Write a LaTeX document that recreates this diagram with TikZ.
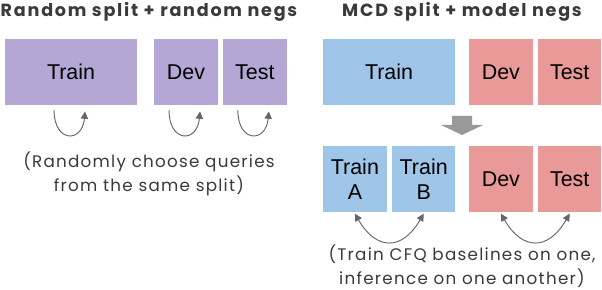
\documentclass[tikz,border=0pt]{standalone}
\usepackage{fontspec}
\setmainfont{Poppins}
\newfontfamily\boxfont{Liberation Sans}
\newfontfamily\headfont[LetterSpace=10]{Poppins Bold}
\newfontfamily\notefont[LetterSpace=7.5]{Poppins}
\usetikzlibrary{arrows.meta,positioning}
\definecolor{Lilac}{HTML}{B4A7D6}
\definecolor{Sky}{HTML}{9FC5E8}
\definecolor{Rose}{HTML}{EA9999}
\definecolor{Ink}{HTML}{3A3A3A}
\definecolor{Slate}{HTML}{666666}
\definecolor{Stone}{HTML}{999999}
\tikzset{
  split/.style={
    minimum height=1.98cm,minimum width=1.9cm,inner sep=0pt,
    font=\boxfont\fontsize{18.3}{21}\selectfont,text=black,align=center
  },
  wide/.style={split,minimum width=3.95cm},
  heading/.style={font=\headfont\fontsize{15}{17}\selectfont,text=Ink},
  note/.style={font=\notefont\fontsize{14.3}{20.4}\selectfont,text=Ink,align=center},
  self/.style={-{Triangle[length=2.2mm,width=2.2mm]},draw=Slate,line width=0.8pt},
  swap/.style={{Triangle[length=2.2mm,width=2.2mm]}-{Triangle[length=2.2mm,width=2.2mm]},
    draw=Slate,line width=0.8pt}
}

\begin{document}
\begin{tikzpicture}[x=0.03cm,y=-0.03cm]
  \useasboundingbox (0,0) rectangle (602,290);

  % random split
  \node[heading] (titleL) at (149,12) {Random split + random negs};
  \node[wide,fill=Lilac,anchor=north west] (trainL) at (5,39) {Train};
  \node[split,fill=Lilac,right=0.51cm of trainL] (devL) {Dev};
  \node[split,fill=Lilac,right=0.15cm of devL] (testL) {Test};
  \foreach \n in {trainL,devL,testL}
    \draw[self] ([xshift=-0.51cm,yshift=-0.15cm]\n.south)
      .. controls +(0,32) and +(-3,32) .. ([xshift=0.42cm,yshift=-0.18cm]\n.south);
  \node[note] (noteL) at (149,174) {(Randomly choose queries\\from the same split)};

  % MCD split
  \node[heading] (titleR) at (462,12) {MCD split + model negs};
  \node[wide,fill=Sky,anchor=north west] (trainR) at (323,39) {Train};
  \node[split,fill=Rose,anchor=north west] (devR) at (469,39) {Dev};
  \node[split,fill=Rose,right=0.15cm of devR] (testR) {Test};
  \fill[Stone] (452,116) -- (472,116) -- (472,125) -- (483,125) -- (462,135)
    -- (441,125) -- (452,125) -- cycle;
  \node[split,fill=Sky,anchor=north west] (trainA) at (323,146) {Train\\A};
  \node[split,fill=Sky,right=0.15cm of trainA] (trainB) {Train\\B};
  \node[split,fill=Rose,anchor=north west] (devM) at (469,146) {Dev};
  \node[split,fill=Rose,right=0.15cm of devM] (testM) {Test};
  \draw[swap] ([yshift=-1pt]trainA.south) to[out=-60,in=-120,looseness=1.6] ([yshift=-1pt]trainB.south);
  \draw[swap] ([yshift=-1pt]devM.south) to[out=-60,in=-120,looseness=1.6] ([yshift=-1pt]testM.south);
  \node[note] (noteR) at (462,266) {(Train CFQ baselines on one,\\inference on one another)};
\end{tikzpicture}
\end{document}
